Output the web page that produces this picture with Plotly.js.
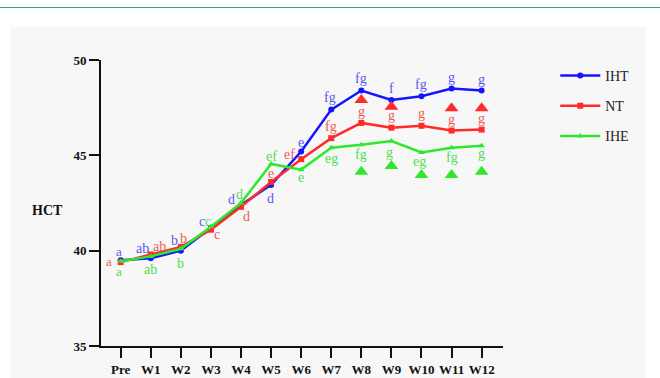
<!DOCTYPE html>
<html>
<head>
<meta charset="utf-8">
<script src="https://cdn.plot.ly/plotly-3.0.1.min.js"></script>
<style>
  html, body { margin: 0; padding: 0; background: #ffffff; width: 660px; height: 378px; overflow: hidden; }
  #topline { position: absolute; left: 0; top: 7px; width: 660px; height: 1px; background: #2aa876; }
  #panel { position: absolute; left: 11px; top: 27px; width: 635px; height: 351px; background: #f7f7f7; }
  #chart { position: absolute; left: 0; top: 0; width: 660px; height: 378px; }
</style>
</head>
<body>
<div id="topline"></div>
<div id="panel"></div>
<div id="chart"></div>
<script>
// ---- data ----
const categories = ['Pre','W1','W2','W3','W4','W5','W6','W7','W8','W9','W10','W11','W12'];
const iht = [39.5, 39.6, 40.0, 41.2, 42.4, 43.45, 45.2, 47.4, 48.4, 47.9, 48.1, 48.5, 48.4];
const nt  = [39.4, 39.8, 40.2, 41.1, 42.3, 43.6, 44.8, 45.9, 46.7, 46.45, 46.55, 46.3, 46.35];
const ihe = [39.45, 39.7, 40.1, 41.25, 42.5, 44.55, 44.25, 45.4, 45.55, 45.75, 45.15, 45.4, 45.5];

const ihtLetters = ['a','ab','b','c','d','d','e','fg','fg','f','fg','g','g'];
const ntLetters  = ['a','ab','b','c','d','e','ef','fg','g','g','g','g','g'];
const iheLetters = ['a','ab','b','c','d','ef','e','eg','fg','g','eg','fg','g'];

const ntTriCats  = ['W8','W9','W11','W12'];
const ntTriVals  = [47.9, 47.55, 47.47, 47.47];
const iheTriCats = ['W8','W9','W10','W11','W12'];
const iheTriVals = [44.14, 44.44, 43.97, 43.97, 44.14];

// ---- styles ----
const BLUE = '#1414ff', RED = '#ff2a2a', GREEN = '#2ee82e';
const BLUE_T = '#5a5af0', RED_T = '#f05a5a', GREEN_T = '#4ee04e';
const SERIF = 'Liberation Serif, Times New Roman, serif';
// label pixel offsets [dx, dy] (dy positive = down)
const ihtOff = [[-2,-9],[-8,-10],[-6,-10],[-9,-6],[-10,-5],[-1,14],[0,-9],[-1,-12],[0,-12],[0,-12],[0,-12],[0,-11],[0,-11]];
const ntOff  = [[-12,-1],[9,-8],[3,-8],[6,5],[5,10],[0,-9],[-12,-5],[0,-12],[0,-11],[0,-12],[0,-12],[0,-11],[0,-11]];
const iheOff = [[-2,10],[0,13],[0,15],[-3,-5],[-2,-9],[0,-7],[0,8],[0,11],[0,10],[-2,11],[-2,9],[0,10],[0,8]];

const idx = categories.map((c, i) => i);
const catIndex = c => categories.indexOf(c);

const traces = [
  { x: idx, y: iht, name: 'IHT', legendgroup: 'a', mode: 'lines+markers', type: 'scatter',
    line: { color: BLUE, width: 2.5 }, marker: { color: BLUE, size: 6, symbol: 'circle' } },
  { x: idx, y: nt, name: 'NT', legendgroup: 'b', mode: 'lines+markers', type: 'scatter',
    line: { color: RED, width: 2.5 }, marker: { color: RED, size: 6, symbol: 'square' } },
  { x: idx, y: ihe, name: 'IHE', legendgroup: 'c', mode: 'lines+markers', type: 'scatter',
    line: { color: GREEN, width: 2.5 }, marker: { color: GREEN, size: 6, symbol: 'triangle-up' } },
  { x: ntTriCats.map(catIndex), y: ntTriVals, mode: 'markers', type: 'scatter', showlegend: false,
    marker: { color: RED, size: 12, symbol: 'triangle-up' }, hoverinfo: 'skip' },
  { x: iheTriCats.map(catIndex), y: iheTriVals, mode: 'markers', type: 'scatter', showlegend: false,
    marker: { color: GREEN, size: 12, symbol: 'triangle-up' }, hoverinfo: 'skip' }
];

const annotations = [];
function addLabels(vals, letters, offs, color) {
  letters.forEach((t, i) => {
    const [dx, dy] = offs[i];
    annotations.push({ x: i, y: vals[i], xref: 'x', yref: 'y', text: t, showarrow: false,
      xshift: dx, yshift: -dy, xanchor: 'center', yanchor: 'middle', borderpad: 0,
      font: { family: SERIF, size: i === 0 ? 13 : 14, color: color } });
  });
}
addLabels(iht, ihtLetters, ihtOff, BLUE_T);
addLabels(nt, ntLetters, ntOff, RED_T);
addLabels(ihe, iheLetters, iheOff, GREEN_T);

annotations.push({ xref: 'paper', yref: 'paper', x: -0.132, y: 0.4755, text: '<b>HCT</b>', showarrow: false,
  xanchor: 'center', yanchor: 'middle', font: { family: SERIF, size: 14, color: '#111' } });

const layout = {
  width: 660, height: 378,
  margin: { l: 101, r: 157, t: 60, b: 32, pad: 0 },
  paper_bgcolor: 'rgba(0,0,0,0)', plot_bgcolor: 'rgba(0,0,0,0)',
  showlegend: true,
  legend: { x: 1.13, y: 1.0, xanchor: 'left', yanchor: 'top', bgcolor: 'rgba(0,0,0,0)',
    font: { family: SERIF, size: 14, color: '#222' }, traceorder: 'grouped', tracegroupgap: 9,
    itemwidth: 40 },
  xaxis: {
    type: 'linear', range: [-0.655, 12.71], tickvals: idx, ticktext: categories,
    showline: true, linecolor: '#111', linewidth: 2, showgrid: false, zeroline: false,
    ticks: 'outside', ticklen: 10, tickwidth: 2, tickcolor: '#111',
    tickfont: { family: SERIF, size: 13, color: '#111', weight: 'bold' }
  },
  yaxis: {
    range: [35, 50], tickvals: [35, 40, 45, 50],
    showline: true, linecolor: '#111', linewidth: 2, showgrid: false, zeroline: false,
    ticks: 'outside', ticklen: 10, tickwidth: 2, tickcolor: '#111',
    tickfont: { family: SERIF, size: 13, color: '#111', weight: 'bold' }
  },
  annotations: annotations
};

Plotly.newPlot('chart', traces, layout, { staticPlot: true, displayModeBar: false });
</script>
</body>
</html>
